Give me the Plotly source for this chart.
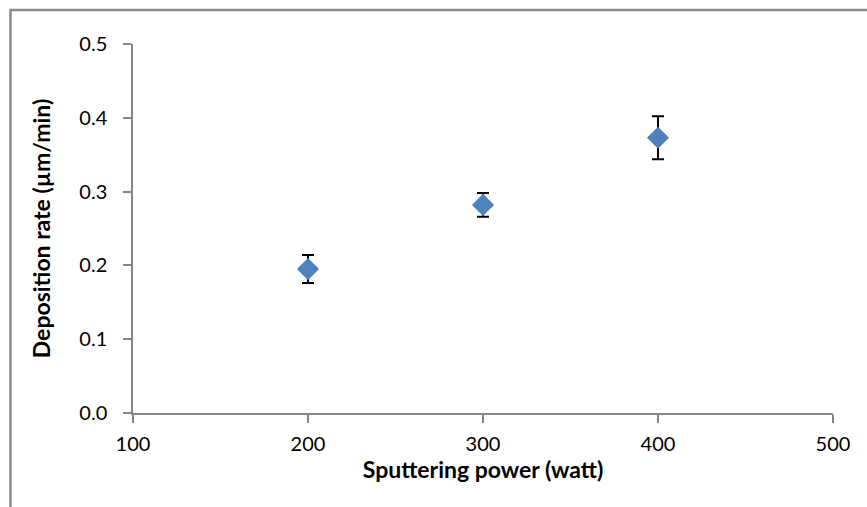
import plotly.graph_objects as go

# Sputtering power vs. deposition rate, with measurement spread
power_w = [200, 300, 400]
rate_um_min = [0.195, 0.282, 0.373]
rate_err = [0.019, 0.016, 0.029]

x_ticks = [100, 200, 300, 400, 500]
y_ticks = [0.0, 0.1, 0.2, 0.3, 0.4, 0.5]

W, H = 867, 507
L, R, T, B = 133, 34, 44, 94
pw, ph = W - L - R, H - T - B

font_family = "Lato, 'Open Sans', sans-serif"
axis_gray = "#868686"

fig = go.Figure()
fig.add_trace(go.Scatter(
    x=power_w,
    y=rate_um_min,
    mode="markers",
    marker=dict(symbol="diamond", size=17, color="#4F81BD",
                line=dict(width=0)),
    error_y=dict(type="data", array=rate_err, visible=True,
                 color="black", thickness=2, width=6),
    showlegend=False,
))

# outer chart frame (runs off the right and bottom edges)
fig.add_shape(type="rect", xref="paper", yref="paper",
              x0=(10.5 - L) / pw, x1=(W + 20 - L) / pw,
              y0=-(B + 20) / ph, y1=1 + (T - 10) / ph,
              line=dict(color="#8a8a8a", width=2.5), fillcolor="rgba(0,0,0,0)",
              layer="below")

fig.update_layout(
    width=W, height=H,
    margin=dict(l=L, r=R, t=T, b=B),
    paper_bgcolor="white", plot_bgcolor="white",
    font=dict(family=font_family, size=20, color="black"),
    xaxis=dict(
        range=[100, 500], tickvals=x_ticks, ticktext=[str(v) for v in x_ticks],
        showgrid=False, zeroline=False,
        showline=True, linecolor=axis_gray, linewidth=1.5,
        ticks="outside", ticklen=8, tickcolor=axis_gray, tickwidth=1.5,
        ticklabelstandoff=4,
        title=dict(text="<b>Sputtering power (watt)</b>", standoff=3,
                   font=dict(size=23)),
    ),
    yaxis=dict(
        range=[0, 0.5], tickvals=y_ticks, ticktext=[f"{v:.1f}" for v in y_ticks],
        showgrid=False, zeroline=False,
        showline=True, linecolor=axis_gray, linewidth=1.5,
        ticks="outside", ticklen=8, tickcolor=axis_gray, tickwidth=1.5,
        ticklabelstandoff=12,
        title=dict(text="<b>Deposition rate (µm/min)</b>", standoff=22,
                   font=dict(size=23)),
    ),
)

fig.write_html("out.html")
